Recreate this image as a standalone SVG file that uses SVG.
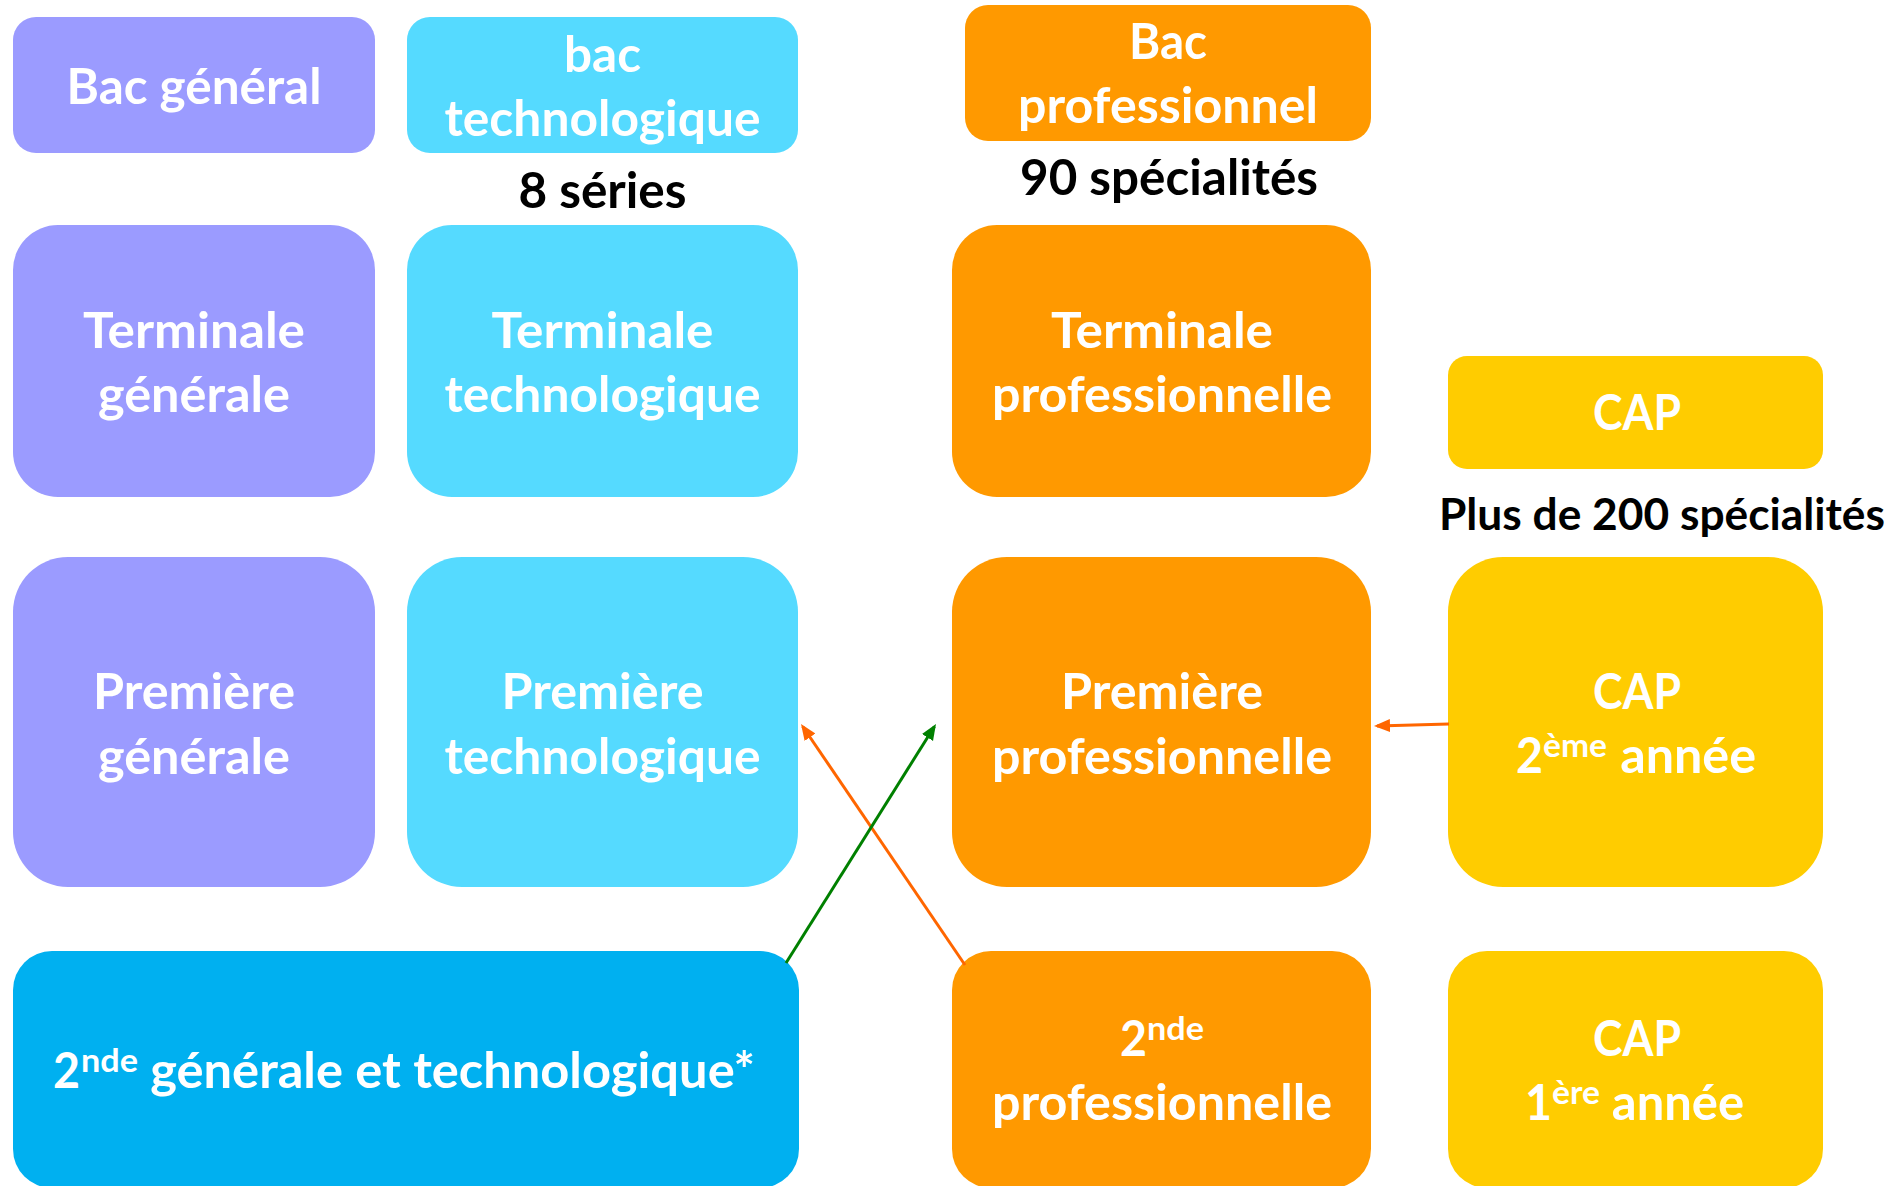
<svg xmlns="http://www.w3.org/2000/svg" width="1903" height="1186" viewBox="0 0 1903 1186">
<style>
  text { font-family: Lato, "Open Sans", "Liberation Sans", sans-serif; font-weight: 700; }
  .w { fill: #FFFFFF; font-size: 49px; text-anchor: middle; }
  .ws { fill: #FFFFFF; font-size: 49px; }
  .sup { font-size: 32px; }
  .k { fill: #000000; font-size: 49px; text-anchor: middle; }
  .k2 { fill: #000000; font-size: 43px; text-anchor: middle; }
  .gen { fill: #9B9BFF; }
  .tec { fill: #55DAFF; }
  .blu { fill: #00B0F0; }
  .pro { fill: #FF9900; }
  .cap { fill: #FFCC00; }
  .ar { fill: none; stroke-width: 3; }
</style>
<defs>
  <marker id="ao" markerUnits="userSpaceOnUse" markerWidth="17" markerHeight="14" refX="13" refY="6.5" orient="auto">
    <path d="M0,0 L16,6.5 L0,13 Z" fill="#FF6600"/>
  </marker>
  <marker id="ag" markerUnits="userSpaceOnUse" markerWidth="17" markerHeight="14" refX="13" refY="6.5" orient="auto">
    <path d="M0,0 L16,6.5 L0,13 Z" fill="#008000"/>
  </marker>
</defs>
<rect width="1903" height="1186" fill="#FFFFFF"/>

<g id="bac-general">
  <rect class="gen" x="13" y="17" width="362" height="136" rx="23"/>
  <text class="w" x="194" y="104" textLength="255" lengthAdjust="spacingAndGlyphs">Bac général</text>
</g>
<g id="bac-technologique">
  <rect class="tec" x="407" y="17" width="391" height="136" rx="23"/>
  <text class="w" x="602.5" y="72" textLength="77" lengthAdjust="spacingAndGlyphs">bac</text>
  <text class="w" x="602.5" y="136" textLength="316" lengthAdjust="spacingAndGlyphs">technologique</text>
</g>
<g id="label-8-series">
  <text class="k" x="602.5" y="208" textLength="168" lengthAdjust="spacingAndGlyphs">8 séries</text>
</g>
<g id="bac-professionnel">
  <rect class="pro" x="965" y="5" width="406" height="136" rx="23"/>
  <text class="w" x="1168" y="59" textLength="78" lengthAdjust="spacingAndGlyphs">Bac</text>
  <text class="w" x="1168" y="123" textLength="300" lengthAdjust="spacingAndGlyphs">professionnel</text>
</g>
<g id="label-90-specialites">
  <text class="k" x="1169" y="195" textLength="298" lengthAdjust="spacingAndGlyphs">90 spécialités</text>
</g>

<g id="terminale-generale">
  <rect class="gen" x="13" y="225" width="362" height="272" rx="45"/>
  <text class="w" x="194" y="348" textLength="222" lengthAdjust="spacingAndGlyphs">Terminale</text>
  <text class="w" x="194" y="412" textLength="192" lengthAdjust="spacingAndGlyphs">générale</text>
</g>
<g id="terminale-technologique">
  <rect class="tec" x="407" y="225" width="391" height="272" rx="45"/>
  <text class="w" x="602.5" y="348" textLength="222" lengthAdjust="spacingAndGlyphs">Terminale</text>
  <text class="w" x="602.5" y="412" textLength="316" lengthAdjust="spacingAndGlyphs">technologique</text>
</g>
<g id="terminale-professionnelle">
  <rect class="pro" x="952" y="225" width="419" height="272" rx="45"/>
  <text class="w" x="1162" y="348" textLength="222" lengthAdjust="spacingAndGlyphs">Terminale</text>
  <text class="w" x="1162" y="412" textLength="340" lengthAdjust="spacingAndGlyphs">professionnelle</text>
</g>
<g id="cap">
  <rect class="cap" x="1448" y="356" width="375" height="113" rx="19"/>
  <text class="w" x="1637" y="430" textLength="88" lengthAdjust="spacingAndGlyphs">CAP</text>
</g>
<g id="label-200-specialites">
  <text class="k2" x="1662" y="530" textLength="446" lengthAdjust="spacingAndGlyphs">Plus de 200 spécialités</text>
</g>

<g id="premiere-generale">
  <rect class="gen" x="13" y="557" width="362" height="330" rx="55"/>
  <text class="w" x="194" y="709" textLength="202" lengthAdjust="spacingAndGlyphs">Première</text>
  <text class="w" x="194" y="774" textLength="192" lengthAdjust="spacingAndGlyphs">générale</text>
</g>
<g id="premiere-technologique">
  <rect class="tec" x="407" y="557" width="391" height="330" rx="55"/>
  <text class="w" x="602.5" y="709" textLength="202" lengthAdjust="spacingAndGlyphs">Première</text>
  <text class="w" x="602.5" y="774" textLength="316" lengthAdjust="spacingAndGlyphs">technologique</text>
</g>
<g id="premiere-professionnelle">
  <rect class="pro" x="952" y="557" width="419" height="330" rx="55"/>
  <text class="w" x="1162" y="709" textLength="202" lengthAdjust="spacingAndGlyphs">Première</text>
  <text class="w" x="1162" y="774" textLength="340" lengthAdjust="spacingAndGlyphs">professionnelle</text>
</g>
<g id="cap-2eme-annee">
  <rect class="cap" x="1448" y="557" width="375" height="330" rx="55"/>
  <text class="w" x="1637" y="709" textLength="88" lengthAdjust="spacingAndGlyphs">CAP</text>
  <text class="ws" y="773"><tspan x="1516" textLength="27" lengthAdjust="spacingAndGlyphs">2</tspan><tspan class="sup" x="1543" dy="-16" textLength="64" lengthAdjust="spacingAndGlyphs">ème</tspan><tspan x="1608" dy="16" textLength="148" lengthAdjust="spacingAndGlyphs"> année</tspan></text>
</g>

<g id="seconde-gt">
  <rect class="blu" x="13" y="951" width="786" height="237" rx="39"/>
  <text class="ws" y="1088"><tspan x="53" textLength="27" lengthAdjust="spacingAndGlyphs">2</tspan><tspan class="sup" x="81" dy="-16" textLength="57" lengthAdjust="spacingAndGlyphs">nde</tspan><tspan x="138" dy="16" textLength="617" lengthAdjust="spacingAndGlyphs"> générale et technologique*</tspan></text>
</g>
<g id="seconde-professionnelle">
  <rect class="pro" x="952" y="951" width="419" height="237" rx="39"/>
  <text class="ws" y="1056"><tspan x="1120" textLength="27" lengthAdjust="spacingAndGlyphs">2</tspan><tspan class="sup" x="1147" dy="-16" textLength="57" lengthAdjust="spacingAndGlyphs">nde</tspan></text>
  <text class="w" x="1162" y="1120" textLength="340" lengthAdjust="spacingAndGlyphs">professionnelle</text>
</g>
<g id="cap-1ere-annee">
  <rect class="cap" x="1448" y="951" width="375" height="237" rx="39"/>
  <text class="w" x="1637" y="1056" textLength="88" lengthAdjust="spacingAndGlyphs">CAP</text>
  <text class="ws" y="1120"><tspan x="1525" textLength="27" lengthAdjust="spacingAndGlyphs">1</tspan><tspan class="sup" x="1552" dy="-16" textLength="48" lengthAdjust="spacingAndGlyphs">ère</tspan><tspan x="1600" dy="16" textLength="144" lengthAdjust="spacingAndGlyphs"> année</tspan></text>
</g>

<g id="connectors">
  <line class="ar" x1="965" y1="965" x2="802.7" y2="726.5" stroke="#FF6600" marker-end="url(#ao)"/>
  <line class="ar" x1="786" y1="963" x2="934.4" y2="726.5" stroke="#008000" marker-end="url(#ag)"/>
  <line class="ar" x1="1449" y1="724" x2="1377" y2="725.9" stroke="#FF6600" marker-end="url(#ao)"/>
</g>
</svg>
